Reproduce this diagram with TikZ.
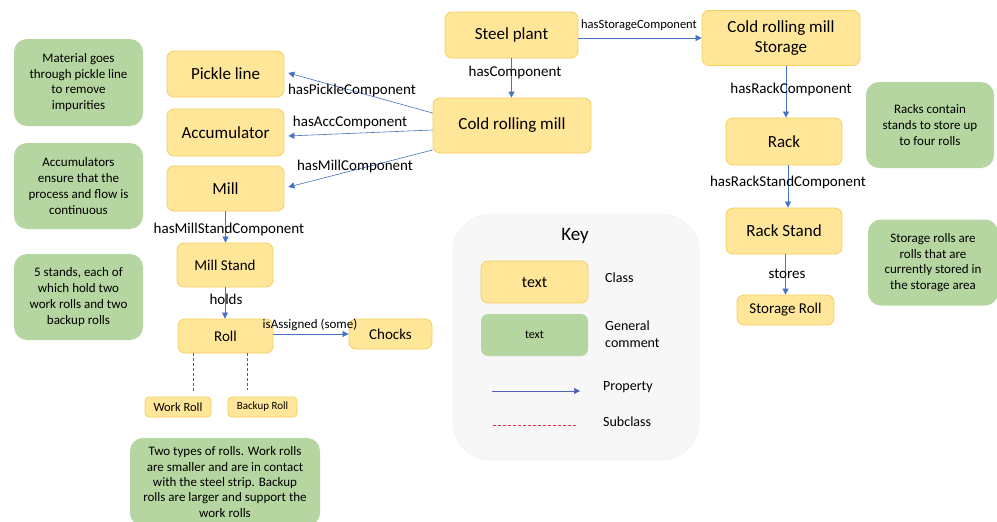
\documentclass[tikz,border=0pt]{standalone}
\usepackage{fontspec}
\setmainfont{Carlito}
\usetikzlibrary{arrows.meta,calc}
\definecolor{clsfill}{HTML}{FFE699}
\definecolor{clsdraw}{HTML}{F5CF5E}
\definecolor{comfill}{HTML}{B5D6A0}
\definecolor{propblue}{HTML}{4472C4}
\definecolor{subred}{HTML}{B03A3A}
\definecolor{keyred}{HTML}{F03030}
\definecolor{keyfill}{HTML}{F7F7F7}
\definecolor{keydraw}{HTML}{EDEDED}
\begin{document}
\begin{tikzpicture}[x=1pt,y=-1pt,
  cls/.style={draw=clsdraw, fill=clsfill, rounded corners=7pt, line width=0.8pt, align=center, inner sep=0pt, font=\fontsize{17}{20}\selectfont},
  com/.style={fill=comfill, rounded corners=13pt, align=center, inner sep=0pt, font=\fontsize{13}{15.7}\selectfont},
  prop/.style={draw=propblue, line width=0.6pt, -{Triangle[length=6pt,width=6pt]}},
  sub/.style={draw=subred, line width=1pt, dash pattern=on 3pt off 2pt},
  lbl/.style={inner sep=0pt, font=\fontsize{15}{18}\selectfont},
  slbl/.style={inner sep=0pt, font=\fontsize{12.5}{15}\selectfont},
  keylbl/.style={inner sep=0pt, anchor=west, align=left, font=\fontsize{14}{17}\selectfont}
]
\useasboundingbox (0,0) rectangle (997,522);
\fill[white] (0,0) rectangle (997,522);

% key panel
\node[draw=keydraw, fill=keyfill, rounded corners=38pt, minimum width=246pt, minimum height=246pt, inner sep=0pt] (keybox) at (576,337) {};
\node[inner sep=0pt, font=\fontsize{19}{22}\selectfont] (keytitle) at (575,236) {Key};
\node[cls, minimum width=107pt, minimum height=42pt, font=\fontsize{16}{19}\selectfont] (keycls) at (534.5,282) {text};
\node[com, rounded corners=7pt, minimum width=107pt, minimum height=42pt, font=\fontsize{12}{14}\selectfont] (keycom) at (534.5,335) {text};
\node[keylbl] (keyclslbl) at (605,278) {Class};
\node[keylbl] (keycomlbl) at (605,334) {General\\comment};
\coordinate (kp1) at (492,391);
\coordinate (kp2) at (580,391);
\draw[prop, draw=propblue!85!violet] (kp1) -- (kp2);
\node[keylbl] (keyproplbl) at (603,387) {Property};
\coordinate (ks1) at (493,425);
\coordinate (ks2) at (578,425);
\draw[draw=keyred, line width=0.9pt, dash pattern=on 3pt off 2pt] (ks1) -- (ks2);
\node[keylbl] (keysublbl) at (603,422) {Subclass};

% classes
\node[cls, minimum width=133pt, minimum height=46pt] (steel) at (511.5,35) {Steel plant};
\node[cls, minimum width=158pt, minimum height=55pt] (storage) at (781,38) {Cold rolling mill\\Storage};
\node[cls, minimum width=158pt, minimum height=55pt] (crm) at (512,125.5) {Cold rolling mill};
\node[cls, minimum width=117pt, minimum height=46pt] (pickle) at (225.5,74) {Pickle line};
\node[cls, minimum width=117pt, minimum height=47pt] (acc) at (225.5,132.5) {Accumulator};
\node[cls, minimum width=117pt, minimum height=45pt] (mill) at (225.5,188.5) {Mill};
\node[cls, minimum width=96pt, minimum height=44pt, font=\fontsize{15}{18}\selectfont] (stand) at (225,265) {Mill Stand};
\node[cls, minimum width=95pt, minimum height=34pt, font=\fontsize{15}{18}\selectfont] (roll) at (225.5,336) {Roll};
\node[cls, minimum width=83pt, minimum height=30pt, font=\fontsize{15}{18}\selectfont] (chocks) at (390.5,334) {Chocks};
\node[cls, rounded corners=4pt, minimum width=66pt, minimum height=20pt, font=\fontsize{12.5}{15}\selectfont] (work) at (178,407) {Work Roll};
\node[cls, rounded corners=4pt, minimum width=69pt, minimum height=20pt, font=\fontsize{11}{13}\selectfont] (backup) at (262.5,407) {Backup Roll};
\node[cls, minimum width=116pt, minimum height=47pt] (rack) at (784,141.5) {Rack};
\node[cls, minimum width=116pt, minimum height=46pt] (rstand) at (784,231) {Rack Stand};
\node[cls, minimum width=97pt, minimum height=30pt, font=\fontsize{15}{18}\selectfont] (sroll) at (785.5,310) {Storage Roll};

% comments
\node[com, minimum width=129pt, minimum height=87pt] (c1) at (78.5,82.5) {Material goes\\through pickle line\\to remove\\impurities};
\node[com, minimum width=129pt, minimum height=86pt] (c2) at (78.5,186) {Accumulators\\ensure that the\\process and flow is\\continuous};
\node[com, minimum width=129pt, minimum height=86pt] (c3) at (78.5,297) {5 stands, each of\\which hold two\\work rolls and two\\backup rolls};
\node[com, minimum width=190pt, minimum height=88pt, font=\fontsize{13}{15.4}\selectfont] (c4) at (225,482) {Two types of rolls. Work rolls\\are smaller and are in contact\\with the steel strip. Backup\\rolls are larger and support the\\work rolls};
\node[com, minimum width=128pt, minimum height=86pt] (c5) at (930,125) {Racks contain\\stands to store up\\to four rolls};
\node[com, minimum width=130pt, minimum height=86pt] (c6) at (933,262.5) {Storage rolls are\\rolls that are\\currently stored in\\the storage area};

% properties
\draw[prop] (steel.south) -- (steel.south |- crm.north);
\node[lbl] (l1) at (515,73) {hasComponent};
\draw[prop] (storage.west -| steel.east) -- (storage.west);
\node[slbl] (l2) at (639,25) {hasStorageComponent};
\draw[prop] ([yshift=12.5pt]crm.west) -- ([xshift=4pt,yshift=1pt]pickle.east);
\node[lbl] (l3) at (352,91) {hasPickleComponent};
\draw[prop] ([yshift=-4.5pt]crm.west) -- ([xshift=4pt,yshift=-3.5pt]acc.east);
\node[lbl] (l4) at (350,123) {hasAccComponent};
\draw[prop] ([yshift=-24.5pt]crm.west) -- ([xshift=4pt,yshift=1.5pt]mill.east);
\node[lbl] (l5) at (355,166) {hasMillComponent};
\draw[prop] (mill.south) -- (mill.south |- stand.north);
\node[lbl] (l6) at (229,229) {hasMillStandComponent};
\draw[prop] (stand.south) -- (stand.south |- roll.north);
\node[lbl] (l7) at (226,299) {holds};
\draw[prop] (roll.east |- chocks.west) -- (chocks.west);
\node[inner sep=0pt, font=\fontsize{13}{15}\selectfont] (l8) at (310,325) {isAssigned (some)};
\draw[prop] ([xshift=2pt]rack.north |- storage.south) -- ([xshift=2pt]rack.north);
\node[lbl] (l9) at (791,89) {hasRackComponent};
\draw[prop] ([xshift=4pt]rack.south) -- ([xshift=4pt]rstand.north);
\node[lbl] (l10) at (788,182) {hasRackStandComponent};
\draw[prop] (sroll.north |- rstand.south) -- (sroll.north);
\node[lbl] (l11) at (787,274) {stores};

% subclasses
\draw[sub] ([xshift=-32pt]roll.south) -- ++(0,39);
\draw[sub] ([xshift=22pt]roll.south) -- ++(0,37);
\end{tikzpicture}
\end{document}
